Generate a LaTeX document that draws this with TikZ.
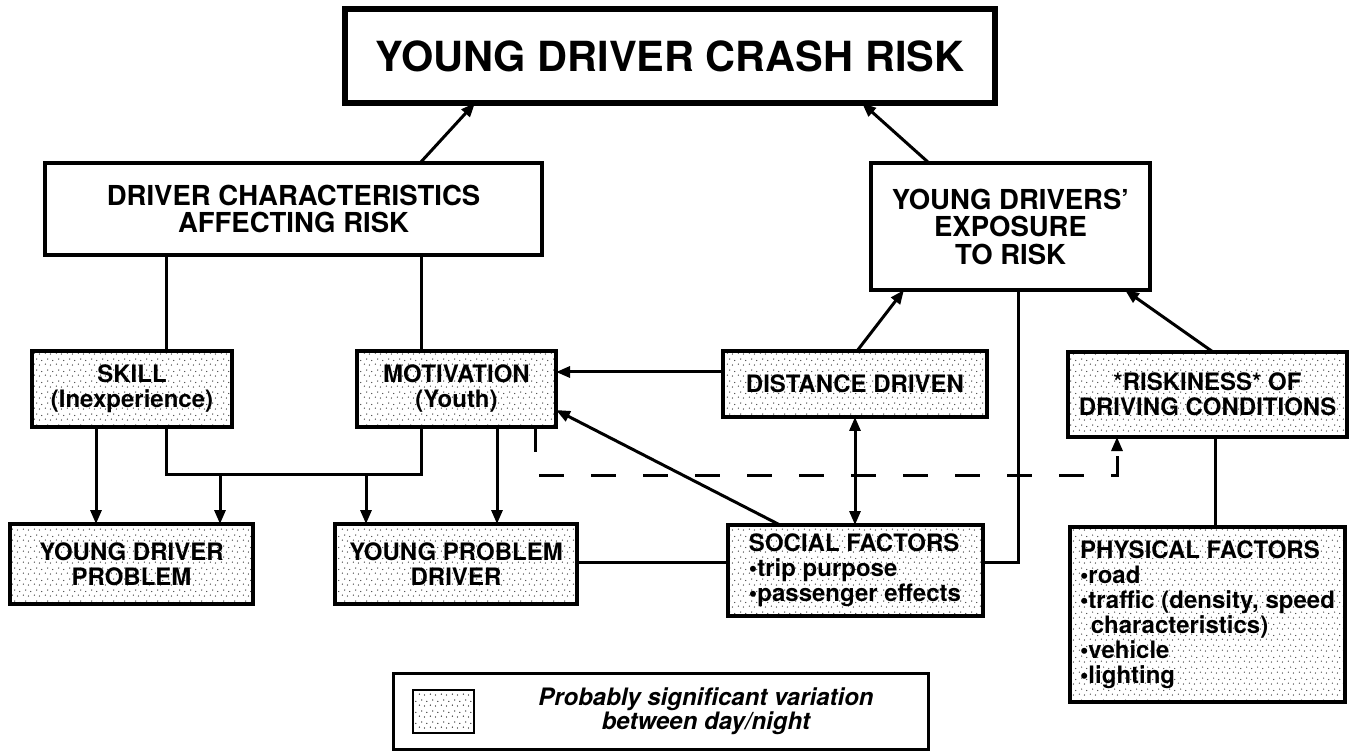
\documentclass[tikz,border=0pt]{standalone}
\usepackage{fontspec}
\setmainfont{TeX Gyre Heros}
\usetikzlibrary{positioning, arrows.meta, patterns.meta}

\tikzdeclarepattern{
	name=stipple,
	type=uncolored,
	bottom left={(0pt,0pt)},
	top right={(11pt,11pt)},
	tile size={(11pt,11pt)},
	code={
		\pgfpathcircle{\pgfqpoint{1.5pt}{2pt}}{0.7pt}
		\pgfpathcircle{\pgfqpoint{7pt}{1pt}}{0.7pt}
		\pgfpathcircle{\pgfqpoint{4pt}{7.5pt}}{0.7pt}
		\pgfpathcircle{\pgfqpoint{9.5pt}{6pt}}{0.7pt}
		\pgfusepath{fill}
	}
}

\tikzset{
	title node/.style={draw, line width=5.5pt, outer sep=0pt, inner sep=0pt, minimum width=650pt, minimum height=94pt, font=\fontsize{41.5}{46}\selectfont\bfseries},
	main node/.style={draw, line width=4pt, outer sep=0pt, inner sep=0pt, align=center, font=\fontsize{27.5}{27.5}\selectfont\bfseries},
	var node/.style={draw, line width=4pt, outer sep=0pt, inner sep=0pt, align=center, pattern=stipple, pattern color=black!80, font=\fontsize{24}{25}\selectfont\bfseries},
	main edge/.style={line width=3pt},
	arrow edge/.style={line width=3pt, -{Triangle[length=14pt,width=11pt]}},
	both edge/.style={line width=3pt, {Triangle[length=14pt,width=11pt]}-{Triangle[length=14pt,width=11pt]}},
}

\begin{document}
\begin{tikzpicture}[x=1pt, y=-1pt]
		\useasboundingbox (0,0) rectangle (1353,751);

		% Top of the tree
		\node[title node] (crash) at (670,56) {YOUNG DRIVER CRASH RISK};
		\node[main node, minimum width=497pt, minimum height=92pt] (chars) at (293.5,209) {DRIVER CHARACTERISTICS\\AFFECTING RISK};
		\node[main node, minimum width=279pt, minimum height=127pt] (exposure) at (1010.5,226.5) {YOUNG DRIVERS'\\EXPOSURE\\TO RISK};

		% Middle row, placed from the skill box
		\node[var node, minimum width=200pt, minimum height=76pt] (skill) at (132,389) {SKILL\\(Inexperience)};
		\node[var node, minimum width=199pt, minimum height=76pt] (motive) [right=125pt of skill] {MOTIVATION\\(Youth)};
		\node[var node, minimum width=264pt, minimum height=66pt] (distance) [right=167pt of motive, yshift=5pt] {DISTANCE DRIVEN};
		\node[var node, minimum width=279pt, minimum height=85pt] (riskiness) [right=81pt of distance, yshift=-10.5pt] {*RISKINESS* OF\\DRIVING CONDITIONS};

		% Bottom row
		\node[var node, minimum width=243pt, minimum height=80pt] (ydp) at (131.5,564) {YOUNG DRIVER\\PROBLEM};
		\node[var node, minimum width=242pt, minimum height=80pt] (ypd) [right=82pt of ydp] {YOUNG PROBLEM\\DRIVER};
		\node[var node, minimum width=255pt, minimum height=91pt, align=left] (social) [below=108pt of distance] {SOCIAL FACTORS\\•trip purpose\\•passenger effects};
		\node[var node, minimum width=275pt, minimum height=175pt, align=left] (physical) [below=90pt of riskiness] {PHYSICAL FACTORS\\•road\\•traffic (density, speed\\\hspace*{0.45em}characteristics)\\•vehicle\\•lighting};

		% Legend
		\node[draw, line width=3pt, outer sep=0pt, minimum width=535pt, minimum height=76pt] (legend) at (660.5,711) {};
		\node[draw, line width=2.5pt, pattern=stipple, minimum width=61pt, minimum height=43pt] (swatch) at (443.5,711.5) {};
		\node[font=\fontsize{24}{23}\selectfont\bfseries\itshape, align=center] (legendtext) at (706,711) {Probably significant variation\\between day/night};

		% Edges into the crash risk box
		\draw[arrow edge] ([xshift=126.5pt]chars.north) -- ([xshift=-195pt]crash.south);
		\draw[arrow edge] ([xshift=-81.5pt]exposure.north) -- ([xshift=192pt]crash.south);

		% Driver characteristics split
		\draw[main edge] ([xshift=-127.5pt]chars.south) -- ([xshift=34pt]skill.north);
		\draw[main edge] ([xshift=127.5pt]chars.south) -- ([xshift=-35.5pt]motive.north);

		% Exposure inputs
		\draw[arrow edge] ([xshift=2pt]distance.north) -- ([xshift=-106.5pt]exposure.south);
		\draw[arrow edge] ([xshift=5.5pt]riskiness.north) -- ([xshift=114.5pt]exposure.south);
		\draw[main edge] ([xshift=7.5pt]exposure.south) |- ([yshift=8.5pt]social.east);

		% Motivation inputs
		\draw[arrow edge] ([yshift=12pt]distance.west) -- ([yshift=17pt]motive.east);
		\draw[arrow edge] ([xshift=-75pt]social.north) -- ([yshift=-21pt]motive.east);
		\draw[both edge] (distance.south) -- (social.north);

		% Skill and motivation outputs
		\coordinate (jl) at (220,474);
		\coordinate (jr) at (366,474);
		\draw[arrow edge] ([xshift=-36pt]skill.south) -- ++(0,97);
		\draw[main edge] ([xshift=34pt]skill.south) |- (jl) -- (jr) -| ([xshift=-35.5pt]motive.south);
		\draw[arrow edge] (jl) -- (jl |- ydp.north);
		\draw[arrow edge] (jr) -- (jr |- ypd.north);
		\draw[arrow edge] ([xshift=40.5pt]motive.south) -- ++(0,97);

		% Problem driver and social factors
		\draw[main edge] ([yshift=2pt]ypd.east) -- ([yshift=8.5pt]social.west);

		% Physical factors
		\draw[main edge] ([xshift=7.5pt]physical.north) -- ([xshift=7.5pt]riskiness.south);

		% Dashed link to driving conditions
		\draw[arrow edge, dash pattern=on 25pt off 27pt] ([xshift=78.5pt]motive.south) -- ++(0,48) -| ([xshift=-90.5pt]riskiness.south);
\end{tikzpicture}
\end{document}
